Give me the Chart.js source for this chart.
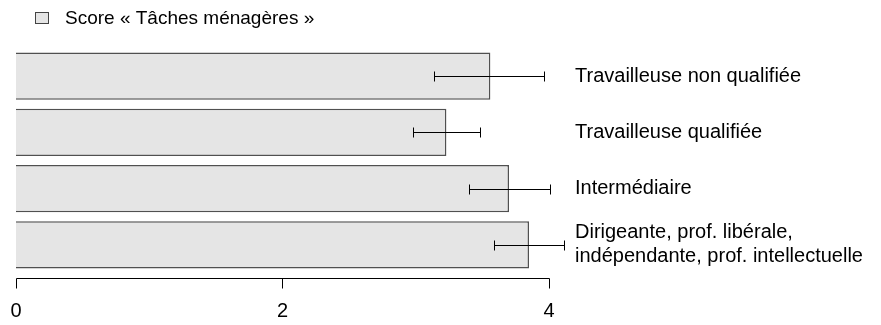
<!DOCTYPE html>
<html>
<head>
<meta charset="utf-8">
<script src="https://cdn.jsdelivr.net/npm/chart.js@4/dist/chart.umd.min.js"></script>
<style>
  body { margin: 0; background: #fff; }
  canvas { display: block; }
</style>
</head>
<body>
<canvas id="barChart" width="881" height="325"></canvas>
<script>
  var seriesLabel = 'Score « Tâches ménagères »';
  var categories = [
    'Travailleuse non qualifiée',
    'Travailleuse qualifiée',
    'Intermédiaire',
    ['Dirigeante, prof. libérale,', 'indépendante, prof. intellectuelle']
  ];
  var scores = [3.56, 3.23, 3.70, 3.85];
  var errLow = [3.14, 2.98, 3.40, 3.59];
  var errHigh = [3.96, 3.48, 4.01, 4.11];
  var xTicks = [0, 2, 4];

  var fontFamily = "'Liberation Sans', Arial, sans-serif";
  Chart.defaults.font.family = fontFamily;
  Chart.defaults.color = '#000';

  // error bars, drawn from the x scale
  var errorBars = {
    id: 'errorBars',
    afterDatasetsDraw: function(chart) {
      var ctx = chart.ctx;
      var x = chart.scales.x;
      var meta = chart.getDatasetMeta(0);
      ctx.save();
      ctx.strokeStyle = '#000';
      ctx.lineWidth = 1;
      meta.data.forEach(function(bar, i) {
        var y = Math.round(bar.y) + 0.5;
        var x1 = Math.round(x.getPixelForValue(errLow[i])) + 0.5;
        var x2 = Math.round(x.getPixelForValue(errHigh[i])) + 0.5;
        ctx.beginPath();
        ctx.moveTo(x1, y); ctx.lineTo(x2, y);
        ctx.moveTo(x1, y - 5); ctx.lineTo(x1, y + 5);
        ctx.moveTo(x2, y - 5); ctx.lineTo(x2, y + 5);
        ctx.stroke();
      });
      ctx.restore();
    }
  };

  // R style axis: line from first to last tick, ticks pointing down
  var baseAxis = {
    id: 'baseAxis',
    afterDraw: function(chart) {
      var ctx = chart.ctx;
      var x = chart.scales.x;
      var y = Math.round(chart.chartArea.bottom + 5) + 0.5;
      ctx.save();
      ctx.strokeStyle = '#000';
      ctx.lineWidth = 1;
      ctx.beginPath();
      ctx.moveTo(Math.round(x.getPixelForValue(xTicks[0])) + 0.5, y);
      ctx.lineTo(Math.round(x.getPixelForValue(xTicks[xTicks.length - 1])) + 0.5, y);
      xTicks.forEach(function(v) {
        var px = Math.round(x.getPixelForValue(v)) + 0.5;
        ctx.moveTo(px, y);
        ctx.lineTo(px, y + 10);
      });
      ctx.stroke();

      // legend
      ctx.fillStyle = '#e5e5e5';
      ctx.strokeStyle = '#444';
      ctx.fillRect(35.5, 12.5, 13, 11);
      ctx.strokeRect(35.5, 12.5, 13, 11);
      ctx.fillStyle = '#000';
      ctx.font = '19px ' + fontFamily;
      ctx.textBaseline = 'middle';
      ctx.fillText(seriesLabel, 65, 18.5);
      ctx.restore();
    }
  };

  var ctx = document.getElementById('barChart').getContext('2d');
  var barChart = new Chart(ctx, {
    type: 'bar',
    data: {
      labels: categories,
      datasets: [{
        label: seriesLabel,
        data: scores,
        backgroundColor: '#e5e5e5',
        borderColor: '#505050',
        borderWidth: 1.5,
        barPercentage: 0.84,
        categoryPercentage: 1
      }]
    },
    options: {
      indexAxis: 'y',
      responsive: false,
      animation: false,
      layout: { padding: { top: 48, left: 16, right: 0, bottom: 0 } },
      plugins: {
        legend: { display: false },
        tooltip: { enabled: false }
      },
      scales: {
        x: {
          position: 'bottom',
          min: 0,
          max: 4.1276,
          afterBuildTicks: function(scale) {
            scale.ticks = xTicks.map(function(v) { return { value: v }; });
          },
          afterFit: function(scale) {
            scale.height = 52;
            scale.paddingLeft = 0;
            scale.paddingRight = 0;
          },
          grid: { display: false, drawTicks: false },
          border: { display: false },
          ticks: { padding: 26, font: { size: 20 }, maxRotation: 0 }
        },
        y: {
          position: 'right',
          afterFit: function(scale) {
            scale.width = 315;
            scale.paddingTop = 0;
            scale.paddingBottom = 0;
          },
          grid: { display: false, drawTicks: false },
          border: { display: false },
          ticks: { padding: 9, font: { size: 20 } }
        }
      }
    },
    plugins: [errorBars, baseAxis]
  });
</script>
</body>
</html>
